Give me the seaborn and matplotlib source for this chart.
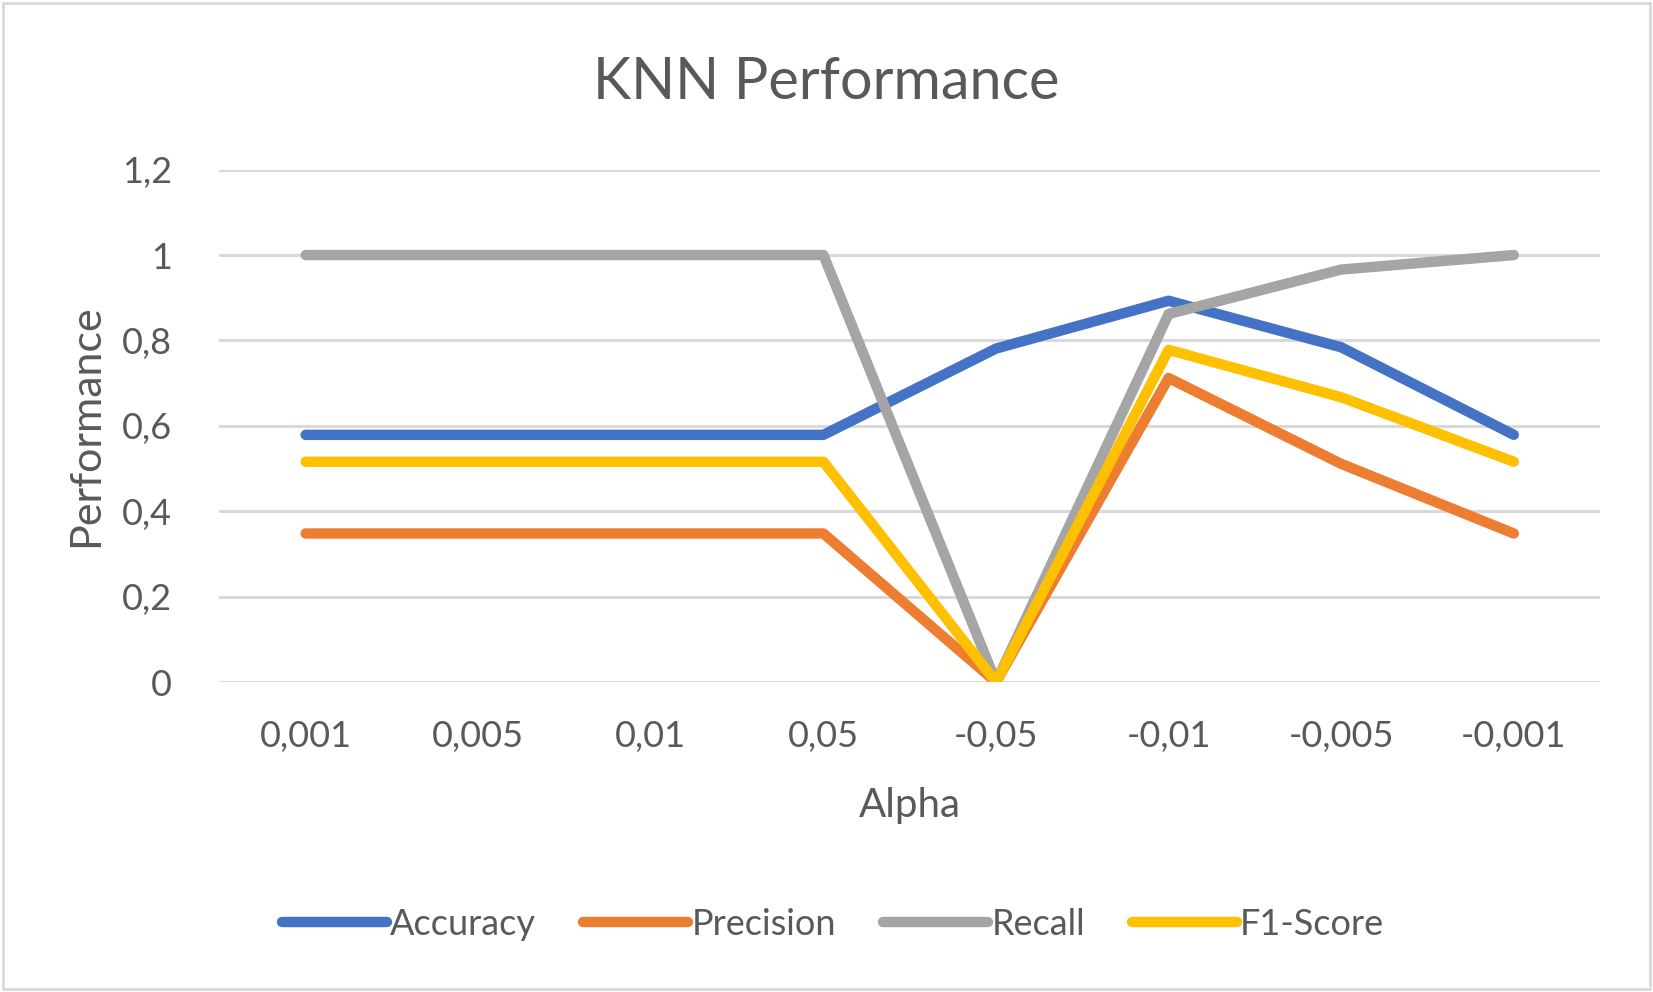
import pandas as pd
import numpy as np
import matplotlib.pyplot as plt
import seaborn as sns

alphas = ['0,001', '0,005', '0,01', '0,05', '-0,05', '-0,01', '-0,005', '-0,001']
accuracy = [0.579, 0.579, 0.579, 0.579, 0.781, 0.893, 0.784, 0.579]
precision = [0.348, 0.348, 0.348, 0.348, 0.0, 0.712, 0.511, 0.348]
recall = [1.0, 1.0, 1.0, 1.0, 0.0, 0.862, 0.966, 1.0]
f1_score = [0.516, 0.516, 0.516, 0.516, 0.0, 0.778, 0.667, 0.516]

df = pd.DataFrame({
    'pos': range(len(alphas)),
    'Accuracy': accuracy,
    'Precision': precision,
    'Recall': recall,
    'F1-Score': f1_score,
})
long_df = df.melt(id_vars='pos', var_name='metric', value_name='value')

sns.set_style('white')
plt.rcParams['font.family'] = ['Lato', 'DejaVu Sans']
text_color = '#595959'
palette = {'Accuracy': '#4472C4', 'Precision': '#ED7D31',
           'Recall': '#A5A5A5', 'F1-Score': '#FFC000'}

fig = plt.figure(figsize=(16.53, 9.92), dpi=100)
ax = fig.add_axes([0.1327, 0.3124, 0.968 - 0.1327, 0.829 - 0.3124])

sns.lineplot(data=long_df, x='pos', y='value', hue='metric', palette=palette,
             linewidth=7.5, ax=ax, sort=False, legend=True)
for line in ax.get_lines():
    line.set_solid_joinstyle('round')
    line.set_solid_capstyle('round')

ax.set_xlim(-0.5, len(alphas) - 0.5)
ax.set_ylim(0, 1.2)
ax.set_yticks([0, 0.2, 0.4, 0.6, 0.8, 1.0, 1.2])
ax.set_yticklabels(['0', '0,2', '0,4', '0,6', '0,8', '1', '1,2'])
ax.set_xticks(range(len(alphas)))
ax.set_xticklabels(alphas)
ax.tick_params(axis='both', length=0, labelsize=26, colors=text_color)
ax.tick_params(axis='x', pad=27)
ax.tick_params(axis='y', pad=34)
ax.yaxis.grid(True, color='#D9D9D9', linewidth=2.2)
ax.set_axisbelow(True)
for side in ['top', 'right', 'left', 'bottom']:
    ax.spines[side].set_visible(False)

ax.set_xlabel('Alpha', fontsize=29, color=text_color, labelpad=25)
ax.set_ylabel('Performance', fontsize=31, color=text_color, labelpad=12)
fig.suptitle('KNN Performance', fontsize=41.5, color=text_color, y=0.944)

handles, labels = ax.get_legend_handles_labels()
ax.legend_.remove()
fig.legend(handles, labels, loc='center', bbox_to_anchor=(0.504, 0.068), ncol=4,
           frameon=False, fontsize=26, labelcolor=text_color, handlelength=2.9,
           handletextpad=0.1, columnspacing=1.3)

fig.patches.append(plt.Rectangle((0.002, 0.003), 0.996, 0.994, transform=fig.transFigure,
                                 fill=False, edgecolor='#D9D9D9', linewidth=2))

plt.savefig('out.png', dpi=100)
